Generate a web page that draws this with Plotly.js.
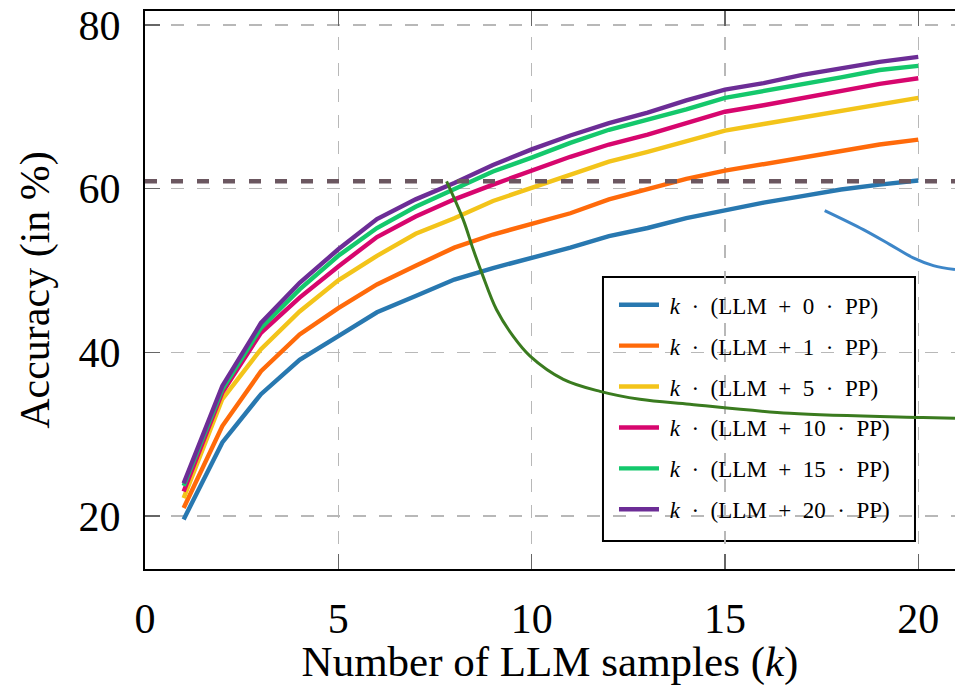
<!DOCTYPE html>
<html>
<head>
<meta charset="utf-8">
<script src="https://cdn.plot.ly/plotly-3.0.1.min.js"></script>
<style>html,body{margin:0;padding:0;background:#fff;}#chart{width:955px;height:686px;}</style>
</head>
<body>
<div id="chart"></div>
<script>
// ---- data ----
const k = [1,2,3,4,5,6,7,8,9,10,11,12,13,14,15,16,17,18,19,20];
const pp0  = [19.6,29.0,34.9,39.1,42.0,44.9,46.9,48.9,50.3,51.5,52.8,54.2,55.2,56.4,57.4,58.3,59.1,59.9,60.5,61.0];
const pp1  = [21.0,31.0,37.7,42.2,45.4,48.3,50.6,52.8,54.4,55.7,57.0,58.7,60.0,61.2,62.2,63.0,63.9,64.7,65.4,66.0];
const pp5  = [22.2,34.3,40.4,45.0,48.8,51.8,54.5,56.4,58.5,60.1,61.7,63.3,64.5,65.8,67.1,67.9,68.7,69.5,70.4,71.1];
const pp10 = [23.0,35.1,42.4,46.7,50.5,54.1,56.6,58.7,60.5,62.2,63.9,65.4,66.6,68.0,69.4,70.2,71.1,71.9,72.8,73.5];
const pp15 = [23.7,35.5,43.0,47.7,51.8,55.2,57.8,59.9,62.1,63.8,65.6,67.2,68.4,69.7,71.1,71.9,72.7,73.6,74.5,75.0];
const pp20 = [24.0,35.9,43.6,48.5,52.6,56.3,58.7,60.7,62.9,64.8,66.5,68.0,69.3,70.8,72.1,72.9,73.9,74.7,75.5,76.1];
const ppCounts = ["0","1","5","10","15","20"];
const threshold = 60.9;

// pointer curves (annotation strokes)
const greenX = [7.80,8.23,8.49,8.71,9.09,9.52,9.96,10.82,11.77,12.80,14.09,16.68,20.12,20.95];
const greenY = [60.89,56.22,52.56,49.72,45.24,41.99,39.55,36.71,35.24,34.27,33.66,32.56,32.04,31.95];
const blueX = [17.58,18.58,19.27,19.87,20.39,20.95];
const blueY = [57.32,55.0,53.17,51.55,50.61,50.12];

const xTicks = [0,5,10,15,20];
const yTicks = [20,40,60,80];

// ---- styling ----
const colors = ["#2878b0","#ff6a0a","#f3c41a","#d7066e","#14c86c","#6c2d96"];
const series = [pp0,pp1,pp5,pp10,pp15,pp20];
const FONT = "'Liberation Serif', 'Times New Roman', serif";
const S = "\u2002";

const traces = series.map((ys,i)=>({
  x:k, y:ys, type:"scatter", mode:"lines",
  line:{color:colors[i], width:4.4},
  name:"\u00A0<i>k</i>"+S+"·"+S+"(LLM"+S+"+"+S+ppCounts[i]+S+"·"+S+"PP)",
  legendgroup:"g"+i
}));
traces.push({x:greenX, y:greenY, type:"scatter", mode:"lines", line:{color:"#3a7b1f", width:3, shape:"spline"}, showlegend:false, hoverinfo:"skip"});
traces.push({x:blueX, y:blueY, type:"scatter", mode:"lines", line:{color:"#3d86c8", width:3, shape:"spline"}, showlegend:false, hoverinfo:"skip"});

const layout = {
  width:955, height:686,
  margin:{l:145, r:0, t:11, b:117},
  paper_bgcolor:"#fff", plot_bgcolor:"#fff",
  showlegend:true,
  font:{family:FONT, color:"#000"},
  xaxis:{
    range:[0,20.95], tickvals:xTicks, ticktext:xTicks.map(String),
    showline:true, linecolor:"#000", linewidth:2, mirror:"ticks",
    ticks:"inside", ticklen:15, tickcolor:"#666", tickwidth:1.5,
    showgrid:true, gridcolor:"#b8b8b8", gridwidth:1.5, griddash:"13px,13px",
    zeroline:false, tickfont:{size:42, family:FONT},
    ticklabelstandoff:12,
    title:{text:"Number of LLM samples (<i>k</i>)", font:{size:43, family:FONT}, standoff:18}
  },
  yaxis:{
    range:[13.54,81.71], tickvals:yTicks, ticktext:yTicks.map(String),
    showline:true, linecolor:"#000", linewidth:2, mirror:false,
    ticks:"inside", ticklen:15, tickcolor:"#666", tickwidth:1.5,
    showgrid:true, gridcolor:"#b8b8b8", gridwidth:1.5, griddash:"13px,13px",
    zeroline:false, tickfont:{size:42, family:FONT},
    ticklabelstandoff:14,
    title:{text:"Accuracy (in %)", font:{size:42, family:FONT}, standoff:16}
  },
  shapes:[
    {type:"rect", xref:"paper", yref:"paper", x0:0.5654, x1:0.9506, y0:0.0502, y1:0.5233,
     line:{color:"#000", width:2}, fillcolor:"#fff", layer:"between"},
    {type:"line", xref:"paper", yref:"y", x0:0, x1:1, y0:threshold, y1:threshold,
     line:{color:"#6b5760", width:4.5, dash:"12px,14px"}, layer:"above"}
  ],
  legend:{
    x:0.579, y:0.512, xanchor:"left", yanchor:"top",
    bgcolor:"rgba(0,0,0,0)", borderwidth:0,
    font:{size:23, family:FONT}, itemwidth:40, tracegroupgap:8,
    traceorder:"grouped"
  }
};

Plotly.newPlot("chart", traces, layout, {displayModeBar:false, staticPlot:true});
</script>
</body>
</html>
